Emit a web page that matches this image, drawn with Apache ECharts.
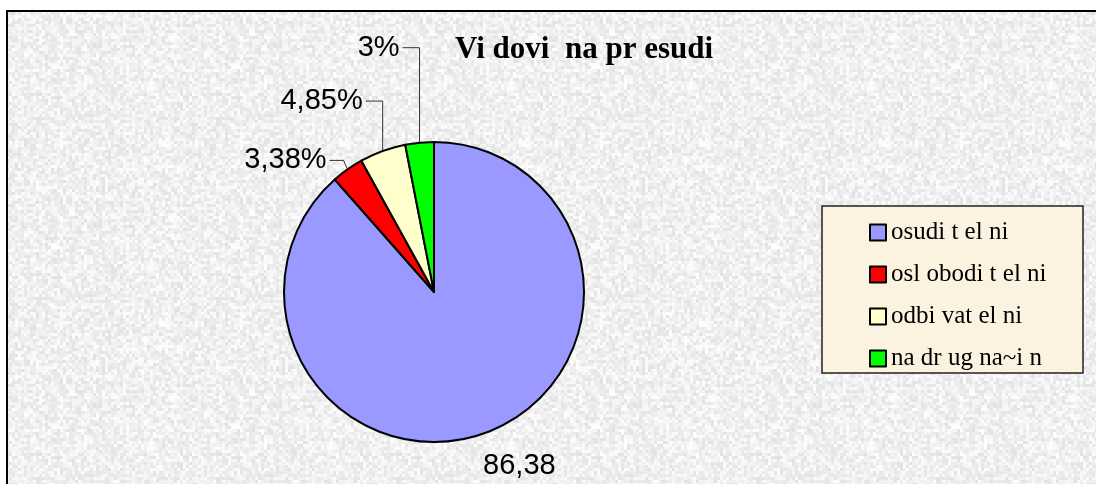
<!DOCTYPE html>
<html>
<head>
<meta charset="utf-8">
<script src="https://cdn.jsdelivr.net/npm/echarts@6/dist/echarts.min.js"></script>
<style>
  html, body { margin: 0; padding: 0; background: #fff; }
  #chart { width: 1096px; height: 484px; }
</style>
</head>
<body>
<div id="chart"></div>
<script>
// categories, values and the label texts as printed on the slices
var categories = ['osudi t el ni', 'osl obodi t el ni', 'odbi vat el ni', 'na dr ug na~i n'];
var values = [86.38, 3.38, 4.85, 3];
var valueLabels = ['86,38', '3,38%', '4,85%', '3%'];
var colors = ['#9999ff', '#ff0000', '#ffffcc', '#00ff00'];

// granite-like paper texture for the chart area (hash noise, purely decorative)
function makeTexture() {
    var c = document.createElement('canvas');
    c.width = 180; c.height = 180;
    var ctx = c.getContext('2d');
    ctx.fillStyle = '#f0f0f0';
    ctx.fillRect(0, 0, 180, 180);
    for (var y = 0; y < 180; y += 3) {
        for (var x = 0; x < 180; x += 3) {
            var h = Math.sin(x * 12.9898 + y * 78.233) * 43758.5453;
            h = h - Math.floor(h);
            var g = Math.round(226 + h * 28);
            ctx.fillStyle = 'rgb(' + g + ',' + g + ',' + g + ')';
            ctx.fillRect(x, y, 3, 3);
        }
    }
    return c;
}

var chart = echarts.init(document.getElementById('chart'));

var data = categories.map(function (name, i) {
    return {
        name: name,
        value: values[i],
        itemStyle: { color: colors[i] },
        labelLine: { show: i > 0, length: 20, length2: 10 }
    };
});

// Excel style leader lines: go up from the slice edge, then left to the text
var rise = [0, 9, 50, 95];
var lean = [0, 4, 0, 0];
var run = [0, 14, 17, 17];

var option = {
    animation: false,
    graphic: [
        {
            type: 'rect',
            z: -10,
            shape: { x: 7, y: 11, width: 1100, height: 480 },
            style: { fill: { image: makeTexture(), repeat: 'repeat' }, stroke: '#000', lineWidth: 2 }
        },
        {
            type: 'rect',
            z: -5,
            shape: { x: 822, y: 206, width: 261, height: 167 },
            style: { fill: '#fbf2df', stroke: '#222', lineWidth: 1.5 }
        }
    ],
    title: {
        text: 'Vi dovi  na pr esudi',
        left: 450,
        top: 29,
        textStyle: {
            fontFamily: 'Liberation Serif',
            fontWeight: 'bold',
            fontSize: 31,
            color: '#000'
        }
    },
    legend: {
        orient: 'vertical',
        left: 864,
        top: 215,
        itemWidth: 16,
        itemHeight: 16,
        itemGap: 17,
        icon: 'rect',
        data: categories,
        textStyle: {
            fontFamily: 'Liberation Serif',
            fontSize: 25,
            lineHeight: 25,
            color: '#000'
        }
    },
    series: [{
        type: 'pie',
        center: [434, 292],
        radius: 150,
        startAngle: 90,
        clockwise: true,
        avoidLabelOverlap: false,
        itemStyle: { borderColor: '#000', borderWidth: 2 },
        label: {
            show: true,
            position: 'outside',
            fontFamily: 'Liberation Sans',
            fontSize: 29,
            color: '#000',
            formatter: function (p) { return valueLabels[p.dataIndex]; }
        },
        labelLine: {
            lineStyle: { color: '#333', width: 1 }
        },
        labelLayout: function (p) {
            var i = p.dataIndex;
            if (i === 0) {
                return { dx: -26, dy: 15 };
            }
            var p0 = p.labelLinePoints[0];
            var p1 = [p0[0] - lean[i], p0[1] - rise[i]];
            var p2 = [p1[0] - run[i], p1[1]];
            return {
                x: p2[0] - 3,
                y: p2[1],
                align: 'right',
                verticalAlign: 'middle',
                labelLinePoints: [p0, p1, p2]
            };
        },
        emphasis: { disabled: true },
        data: data
    }]
};

chart.setOption(option);
</script>
</body>
</html>
